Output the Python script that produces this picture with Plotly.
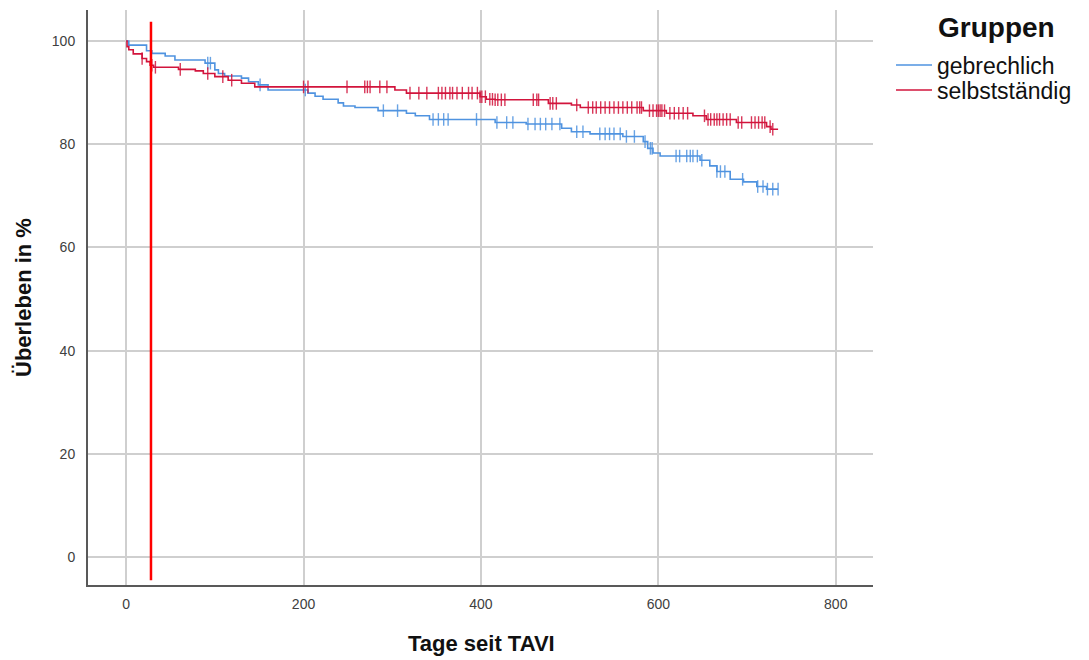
import plotly.graph_objects as go
import numpy as np

# Kaplan-Meier step data (days, survival %)
blue_name = "gebrechlich"
blue_t = [0, 3, 23, 29, 44, 55, 89, 100, 104, 111, 130, 138, 149, 160, 205, 213, 222, 239, 245, 258,
          284, 316, 326, 342, 416, 451, 491, 502, 523, 560, 583, 588, 594, 602, 647, 658, 666, 681, 696, 711, 722]
blue_s = [100, 99.2, 98.1, 97.6, 97.1, 96.3, 95.7, 94.4, 93.7, 93.2, 92.8, 92.1, 91.5, 90.5, 89.9, 89.3, 88.7, 88.0, 87.4, 87.1,
          86.5, 86.0, 85.5, 84.8, 84.2, 83.9, 83.1, 82.4, 82.0, 81.5, 80.5, 79.2, 78.3, 77.7, 76.9, 75.8, 74.7, 73.2, 72.7, 71.8, 71.3]
blue_end = 735
blue_cens = [92, 95, 151, 202, 290, 306, 346, 352, 358, 363, 395, 418, 429, 436, 453, 461, 467, 473, 480, 489,
             508, 515, 534, 540, 545, 550, 557, 564, 573, 585, 591, 593, 620, 624, 632, 636, 639, 644, 649,
             666, 670, 675, 695, 712, 718, 723, 729, 735]

red_name = "selbstständig"
red_t = [0, 1, 3, 8, 18, 23, 27, 31, 59, 78, 87, 100, 115, 130, 145, 303, 316, 399, 406, 416,
         476, 502, 512, 583, 609, 639, 654, 688, 722, 727]
red_s = [100, 98.9, 98.3, 97.5, 96.6, 96.0, 95.3, 94.9, 94.5, 94.2, 93.7, 93.1, 92.4, 91.8, 91.1, 90.5, 89.9, 89.2, 88.7, 88.6,
         87.9, 87.6, 87.1, 86.5, 86.0, 85.5, 84.8, 84.2, 83.4, 82.9]
red_end = 735
red_cens = [18, 29, 33, 61, 92, 109, 119, 200, 205, 249, 269, 272, 275, 286, 294, 320, 330, 339, 352, 356,
            360, 365, 368, 373, 379, 386, 390, 396, 399, 401, 405, 410, 413, 416, 419, 423, 427, 459, 463, 465,
            478, 481, 485, 508, 521, 526, 530, 535, 540, 545, 550, 555, 560, 565, 570, 576, 579, 581, 590, 594,
            598, 600, 602, 604, 607, 613, 618, 623, 628, 633, 652, 656, 659, 663, 666, 669, 673, 677, 681, 690,
            694, 705, 709, 713, 717, 720, 726, 729]

marker_day = 28
x_ticks = [0, 200, 400, 600, 800]
y_ticks = [0, 20, 40, 60, 80, 100]

x_title = "Tage seit TAVI"
y_title = "Überleben in %"
legend_title = "Gruppen"

blue_col = "#4f93e0"
red_col = "#d2143c"

# figure geometry (page has an 8px body margin)
W, H = 1081, 652
ML, MR, MT, MB = 80, 216, 2, 75
PW, PH = W - ML - MR, H - MT - MB
OFF = 8


def px_to_paper(sx, sy):
    fx, fy = sx - OFF, sy - OFF
    return (fx - ML) / PW, (MT + PH - fy) / PH


def step_value(ts, ss, x):
    idx = np.searchsorted(np.array(ts), x, side="right") - 1
    return ss[max(idx, 0)]


fig = go.Figure()
for name, ts, ss, end, cens, col, leg in [
    (blue_name, blue_t, blue_s, blue_end, blue_cens, blue_col, "legend"),
    (red_name, red_t, red_s, red_end, red_cens, red_col, "legend2"),
]:
    xs = list(ts) + [end]
    ys = list(ss) + [ss[-1]]
    fig.add_trace(go.Scatter(x=xs, y=ys, mode="lines", line=dict(color=col, width=1.6, shape="hv"),
                             name=name, showlegend=True, legend=leg))
    fig.add_trace(go.Scatter(x=cens, y=[step_value(ts, ss, c) for c in cens], mode="markers",
                             marker=dict(symbol="line-ns", size=9, line=dict(color=col, width=1.4)),
                             opacity=0.85, showlegend=False, hoverinfo="skip"))

fig.add_shape(type="line", x0=marker_day, x1=marker_day, y0=-4.5, y1=103.7, xref="x", yref="y",
              line=dict(color="#ff0000", width=2.5))

tickfont = dict(family="Liberation Sans, Arial", size=14, color="#404040")
fig.update_xaxes(range=[-43, 842], tickvals=x_ticks, showgrid=True, gridcolor="#cfcfcf", gridwidth=1.5,
                 showline=True, linecolor="#595959", linewidth=2, zeroline=False, ticks="", tickfont=tickfont,
                 ticklabelstandoff=5)
fig.update_yaxes(range=[-5.4, 106], tickvals=y_ticks, showgrid=True, gridcolor="#cfcfcf", gridwidth=1.5,
                 showline=True, linecolor="#595959", linewidth=2, zeroline=False, ticks="", tickfont=tickfont,
                 ticklabelstandoff=8)

l1x, l1y = px_to_paper(891, 65)
l2x, l2y = px_to_paper(891, 90)
tx, ty = px_to_paper(936, 28)
xtx, xty = px_to_paper(481, 643)
ytx, yty = px_to_paper(23, 298)

legend_style = dict(xanchor="left", yanchor="middle", font=dict(size=23, color="#111111"),
                    itemwidth=36, bgcolor="rgba(0,0,0,0)")

fig.update_layout(
    width=W, height=H,
    margin=dict(l=ML, r=MR, t=MT, b=MB),
    plot_bgcolor="white", paper_bgcolor="white",
    font=dict(family="Liberation Sans, Arial", color="#111111"),
    legend=dict(x=l1x, y=l1y, **legend_style),
    legend2=dict(x=l2x, y=l2y, **legend_style),
    annotations=[
        dict(text="<b>" + legend_title + "</b>", x=tx, y=ty, xref="paper", yref="paper", showarrow=False,
             xanchor="left", yanchor="middle", font=dict(size=28, color="#111111")),
        dict(text="<b>" + x_title + "</b>", x=xtx, y=xty, xref="paper", yref="paper", showarrow=False,
             xanchor="center", yanchor="middle", font=dict(size=22, color="#111111")),
        dict(text="<b>" + y_title + "</b>", x=ytx, y=yty, xref="paper", yref="paper", showarrow=False,
             xanchor="center", yanchor="middle", textangle=-90, font=dict(size=22, color="#111111")),
    ],
)

fig.write_html("out.html")
